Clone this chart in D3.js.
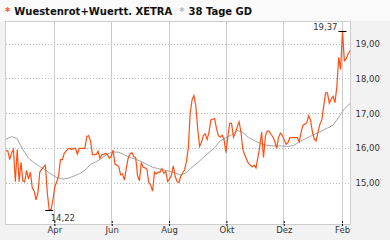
<!DOCTYPE html>
<html>
<head>
<meta charset="utf-8">
<script src="https://cdn.jsdelivr.net/npm/d3@7"></script>
<style>
  body { margin: 0; background: #f2f2f2; }
  svg { display: block; font-family: "DejaVu Sans", Verdana, sans-serif; }
</style>
</head>
<body>
<div id="chart"></div>
<script>
//Data
// closing prices, one reading every 2 days starting 10.02.2016
const priceValues = [
	15.91, 15.91, 15.66, 15.85, 15.95, 15.02, 15.95, 15.02, 15.58, 15.05,
	15.02, 15.35, 15.10, 15.30, 14.85, 14.75, 14.50, 14.70, 15.30, 15.38,
	15.45, 15.50, 14.70, 14.22, 14.22, 14.50, 14.88, 15.02, 15.20, 15.66,
	15.66, 15.84, 15.90, 15.97, 15.98, 15.95, 15.98, 15.98, 15.82, 15.98,
	15.98, 15.98, 15.98, 16.32, 16.35, 16.20, 15.80, 15.80, 15.80, 15.90,
	15.70, 15.80, 15.80, 15.84, 15.80, 15.70, 15.75, 15.93, 15.52, 15.50,
	15.46, 15.22, 15.25, 15.07, 15.40, 15.70, 15.82, 15.86, 15.74, 15.72,
	15.20, 15.05, 15.58, 15.44, 15.42, 15.38, 15.00, 14.92, 14.75, 15.30,
	15.25, 15.30, 15.30, 15.40, 15.27, 15.32, 15.03, 15.10, 15.20, 15.48,
	15.18, 15.03, 15.00, 15.18, 15.28, 15.36, 15.60, 16.00, 17.00, 17.38,
	17.50, 17.20, 16.55, 16.04, 16.15, 16.35, 16.40, 16.24, 16.45, 16.80,
	16.82, 16.84, 16.55, 16.35, 16.31, 16.36, 16.24, 15.86, 16.30, 16.70,
	16.70, 16.30, 16.42, 16.60, 16.75, 16.45, 15.95, 15.80, 15.66, 15.55,
	15.50, 15.45, 15.50, 15.42, 15.72, 16.02, 16.45, 15.72, 16.33, 16.48,
	16.48, 16.38, 16.31, 16.18, 15.98, 16.30, 16.42, 16.36, 16.22, 16.10,
	16.15, 16.29, 16.29, 16.29, 16.29, 16.29, 16.17, 16.44, 16.65, 16.68,
	16.72, 16.92, 16.80, 16.46, 16.25, 16.20, 16.46, 16.68, 16.80, 17.20,
	17.58, 17.58, 17.28, 17.40, 17.48, 17.30, 17.75, 18.60, 18.25, 19.37,
	18.50, 18.57, 18.70, 18.80
];

// 38 Tage GD, one reading every 6 days starting 10.02.2016
const maValues = [
	16.25, 16.32, 16.26, 15.95, 15.70, 15.57, 15.46, 15.36, 15.24, 15.14,
	15.10, 15.12, 15.18, 15.25, 15.35, 15.52, 15.60, 15.70, 15.82, 15.88,
	15.87, 15.80, 15.72, 15.67, 15.60, 15.52, 15.44, 15.40, 15.36, 15.32,
	15.27, 15.22, 15.28, 15.44, 15.57, 15.72, 15.86, 16.00, 16.20, 16.29,
	16.37, 16.50, 16.44, 16.30, 16.21, 16.13, 16.08, 16.06, 16.05, 16.05,
	16.04, 16.06, 16.17, 16.25, 16.33, 16.41, 16.48, 16.57, 16.65, 16.88,
	17.12, 17.27
];

const yTicks = [15, 16, 17, 18, 19];
const monthTicks = [[2016, 3], [2016, 5], [2016, 7], [2016, 9], [2016, 11], [2017, 1]];
const monthLabels = ["Apr", "Jun", "Aug", "Okt", "Dez", "Feb"];

const titleMain = "Wuestenrot+Wuertt. XETRA";
const titleMa = "38 Tage GD";

//Setup
const W = 390, H = 240;
const plot = {left: 5, right: 350, top: 21, bottom: 224};
const dayMs = 86400000;
const start = Date.UTC(2016, 1, 10);

let priceData = priceValues.map(function(v, i) {
	return {date: new Date(start + i * 2 * dayMs), value: v};
});
let maData = maValues.map(function(v, i) {
	return {date: new Date(start + i * 6 * dayMs), value: v};
});

const x = d3.scaleUtc()
	.domain([new Date(Date.UTC(2016, 1, 9)), new Date(Date.UTC(2017, 1, 10))])
	.range([plot.left, plot.right]);
const y = d3.scaleLinear().domain([15, 19]).range([182.5, 43.5]);

const de = d3.formatLocale({decimal: ",", thousands: ".", grouping: [3], currency: ["", " €"]});
const fmt = de.format(".2f");

let svg = d3.select("#chart").append("svg")
	.attr("width", W)
	.attr("height", H);

// title strip
svg.append("rect").attr("width", W).attr("height", plot.top).attr("fill", "#fafafa");

// plot background
svg.append("rect")
	.attr("x", plot.left + 0.5).attr("y", plot.top + 0.5)
	.attr("width", plot.right - plot.left).attr("height", plot.bottom - plot.top)
	.attr("fill", "#fff");

// horizontal grid (dotted)
svg.append("g").selectAll("line")
	.data(yTicks)
	.enter().append("line")
	.attr("x1", plot.left + 1).attr("x2", plot.right)
	.attr("y1", function(d) { return Math.round(y(d)) + 0.5; })
	.attr("y2", function(d) { return Math.round(y(d)) + 0.5; })
	.attr("stroke", "#bbb")
	.attr("stroke-dasharray", "1,2");

let tickDates = monthTicks.map(function(m) { return new Date(Date.UTC(m[0], m[1], 1)); });

// vertical grid
svg.append("g").selectAll("line")
	.data(tickDates)
	.enter().append("line")
	.attr("x1", function(d) { return Math.round(x(d)) + 0.5; })
	.attr("x2", function(d) { return Math.round(x(d)) + 0.5; })
	.attr("y1", plot.top).attr("y2", plot.bottom)
	.attr("stroke", "#ccc");

// border
svg.append("rect")
	.attr("x", plot.left + 0.5).attr("y", plot.top + 0.5)
	.attr("width", plot.right - plot.left).attr("height", plot.bottom - plot.top)
	.attr("fill", "none")
	.attr("stroke", "#ccc");

// x axis
let xAxis = d3.axisBottom(x)
	.tickValues(tickDates)
	.tickFormat(function(d, i) { return monthLabels[i]; })
	.tickSize(6)
	.tickPadding(0);
let gx = svg.append("g")
	.attr("transform", "translate(0.5," + (plot.bottom - 3) + ")")
	.call(xAxis);
gx.select(".domain").remove();
gx.selectAll(".tick line").attr("stroke", "#000").attr("stroke-dasharray", "2,1");
gx.selectAll("text").attr("fill", "#333").attr("font-size", "8.5px").attr("font-family", "DejaVu Sans");

// y axis labels
let yAxis = d3.axisRight(y)
	.tickValues(yTicks)
	.tickFormat(fmt)
	.tickSize(0)
	.tickPadding(0);
let gy = svg.append("g")
	.attr("transform", "translate(" + (plot.right + 5.5) + ",0.5)")
	.call(yAxis);
gy.select(".domain").remove();
gy.selectAll("text").attr("fill", "#333").attr("font-size", "8.5px").attr("font-family", "DejaVu Sans");

// lines
let line = d3.line()
	.x(function(d) { return x(d.date); })
	.y(function(d) { return y(d.value); });

svg.append("path")
	.datum(maData)
	.attr("d", line)
	.attr("fill", "none")
	.attr("stroke", "#a3a3a3")
	.attr("stroke-width", 1);

svg.append("path")
	.datum(priceData)
	.attr("d", line)
	.attr("fill", "none")
	.attr("stroke", "#ff4f14")
	.attr("stroke-width", 1.2)
	.attr("stroke-linejoin", "miter");

// high / low markers
let hi = priceData[d3.maxIndex(priceData, function(d) { return d.value; })];
let lo = priceData[d3.minIndex(priceData, function(d) { return d.value; })];

let marks = svg.append("g").attr("font-size", "8.5px").attr("fill", "#333");
[hi, lo].forEach(function(p) {
	let px = x(p.date), py = Math.round(y(p.value)) + 0.5;
	marks.append("line")
		.attr("x1", px - 4).attr("x2", px + 4)
		.attr("y1", py).attr("y2", py)
		.attr("stroke", "#000").attr("stroke-width", 1);
	marks.append("text")
		.attr("x", p === hi ? px - 5 : px + 1.5)
		.attr("y", p === hi ? py - 1.5 : py + 10)
		.attr("text-anchor", p === hi ? "end" : "start")
		.text(fmt(p.value));
});

// title
let title = svg.append("text")
	.attr("x", 5).attr("y", 15)
	.attr("font-size", "10px")
	.attr("font-weight", "bold");
title.append("tspan").attr("fill", "#ff4f14").text("*");
title.append("tspan").attr("dx", 4).attr("fill", "#111").text(titleMain);
title.append("tspan").attr("dx", 7).attr("fill", "#bbb").text("*");
title.append("tspan").attr("dx", 4).attr("fill", "#111").text(titleMa);
</script>
</body>
</html>
